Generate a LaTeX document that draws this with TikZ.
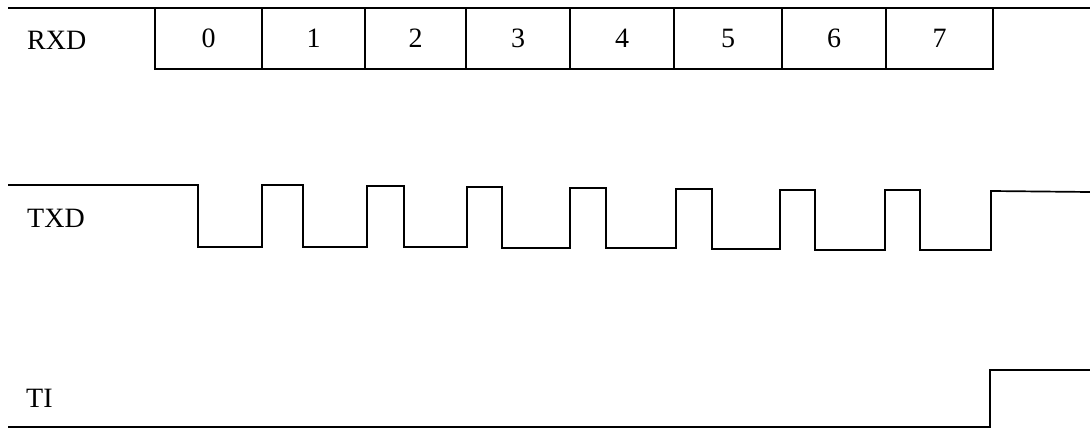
\documentclass[tikz,border=0pt]{standalone}
\usepackage{fontspec}
\setmainfont{Liberation Serif}
\begin{document}
\begin{tikzpicture}[x=1pt,y=-1pt,
  wave/.style={line width=1.7pt, line join=miter},
  lbl/.style={font=\fontsize{28}{28}\selectfont, anchor=west, inner sep=0pt},
  bitbox/.style={draw, line width=1.7pt, minimum height=61pt, inner sep=0pt, font=\fontsize{28}{28}\selectfont}]
\useasboundingbox (0,0) rectangle (1090,428);
% labels
\node[lbl] (rxd) at (27,40) {RXD};
\node[lbl] (txd) at (27,218) {TXD};
\node[lbl] (ti) at (26,398) {TI};
% RXD line and bit boxes
\draw[wave] (8,8) -- (1090,8);
\foreach \l/\r/\t in {155/262/0,262/365/1,365/466/2,466/570/3,570/674/4,674/782/5,782/886/6,886/993/7}{
  \node[bitbox, minimum width={(\r-\l)*1pt}] (b\t) at ({(\l+\r)/2},38.5) {\t};
}
% TXD waveform
\draw[wave] (8,185) -- (198,185) -- (198,247) -- (262,247)
  -- (262,185) -- (303,185) -- (303,247) -- (367,247)
  -- (367,186) -- (404,186) -- (404,247) -- (467,247)
  -- (467,187) -- (502,187) -- (502,248) -- (570,248)
  -- (570,188) -- (606,188) -- (606,248) -- (676,248)
  -- (676,189) -- (712,189) -- (712,249) -- (780,249)
  -- (780,190) -- (815,190) -- (815,250) -- (885,250)
  -- (885,190) -- (920,190) -- (920,250) -- (991,250)
  -- (991,191) -- (1090,192);
% TI waveform
\draw[wave] (8,427) -- (990,427) -- (990,370) -- (1090,370);
\end{tikzpicture}
\end{document}
